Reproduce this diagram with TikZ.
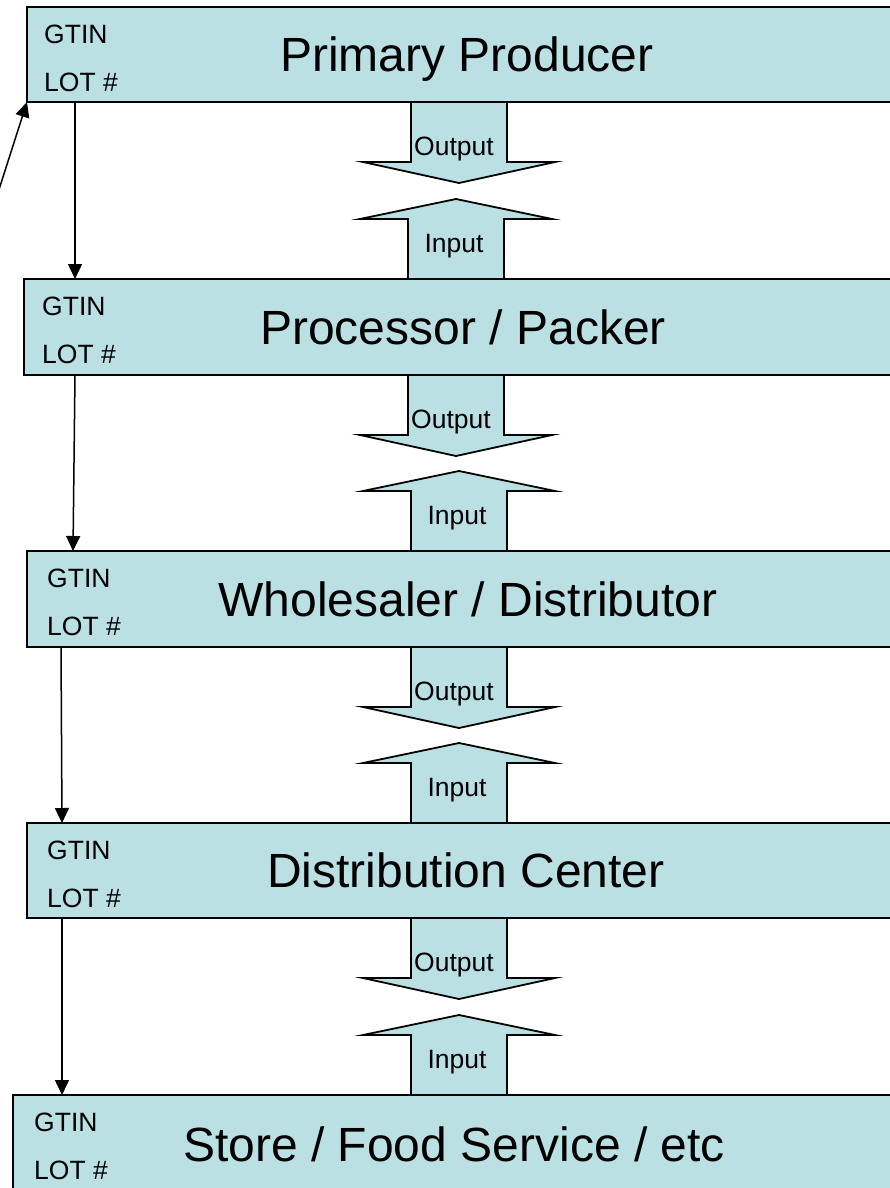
\documentclass[tikz,border=0pt]{standalone}
\usepackage{fontspec}
\setmainfont{Liberation Sans}
\usetikzlibrary{arrows.meta, calc}
\definecolor{boxfill}{RGB}{187,224,227}
\tikzset{
  stage/.style   = {draw, line width=2pt, fill=boxfill, rectangle, outer sep=0pt,
                    inner sep=0pt, font=\fontsize{48}{50}\selectfont,
                    text height=34.4pt, text depth=0pt},
  tag/.style     = {inner sep=0pt, font=\fontsize{26.5}{28}\selectfont,
                    text height=19pt, text depth=0pt},
  blockarr/.style = {draw, line width=1.8pt, fill=boxfill},
  link/.style    = {-{Triangle[length=15pt, width=14pt]}, line width=1.5pt},
  outblock/.pic  = {
    \filldraw[blockarr] (-48,0) -- (-48,60) -- (-96,60) -- (0,81) -- (96,60) -- (48,60) -- (48,0) -- cycle;
    \node[tag] (-txt) at (-5,44) {Output};
  },
  inblock/.pic   = {
    \filldraw[blockarr] (-48,0) -- (-48,-60) -- (-96,-60) -- (0,-80) -- (96,-60) -- (48,-60) -- (48,0) -- cycle;
    \node[tag] (-txt) at (-2,-36.5) {Input};
  },
}
\begin{document}
\begin{tikzpicture}[x=1pt, y=-1pt]
  \useasboundingbox (0,0) rectangle (890,1188);
  \clip (0,0) rectangle (890,1188);

  % stages
  \node[stage, minimum width=880pt, minimum height=95pt] at (467, 54.5)  (prod)  {Primary Producer};
  \node[stage, minimum width=878pt, minimum height=96pt] at (463, 327)   (proc)  {Processor / Packer};
  \node[stage, minimum width=882pt, minimum height=96pt] at (468, 599)   (whol)  {Wholesaler / Distributor};
  \node[stage, minimum width=878pt, minimum height=95pt] at (466, 870.5) (dist)  {Distribution Center};
  \node[stage, minimum width=882pt, minimum height=98pt] at (454, 1144)  (store) {Store / Food Service / etc};

  % GTIN / LOT labels
  \foreach \s/\dx in {prod/17, proc/18, whol/20, dist/20, store/21} {
    \node[tag, anchor=west] at ([xshift=\dx pt, yshift=-27pt]\s.north west) (\s-gtin) {GTIN};
    \node[tag, anchor=west] at ([xshift=\dx pt, yshift=-75pt]\s.north west) (\s-lot)  {LOT \#};
  }

  % output / input block arrows
  \pic (out1) at (459, 102) {outblock};
  \pic (in1)  at (456, 279) {inblock};
  \pic (out2) at (456, 375) {outblock};
  \pic (in2)  at (459, 551) {inblock};
  \pic (out3) at (459, 647) {outblock};
  \pic (in3)  at (459, 823) {inblock};
  \pic (out4) at (459, 918) {outblock};
  \pic (in4)  at (459, 1095) {inblock};

  % traceability links
  \coordinate (feed) at (-5, 202);
  \draw[link] (feed) -- (prod.south west);
  \draw[link] ([xshift=48pt]prod.south west) -- ([xshift=51pt]proc.north west);
  \draw[link] ([xshift=51pt]proc.south west) -- ([xshift=46pt]whol.north west);
  \draw[link] ([xshift=34pt]whol.south west) -- ([xshift=35pt]dist.north west);
  \draw[link] ([xshift=35pt]dist.south west) -- ([xshift=49pt]store.north west);
\end{tikzpicture}
\end{document}
